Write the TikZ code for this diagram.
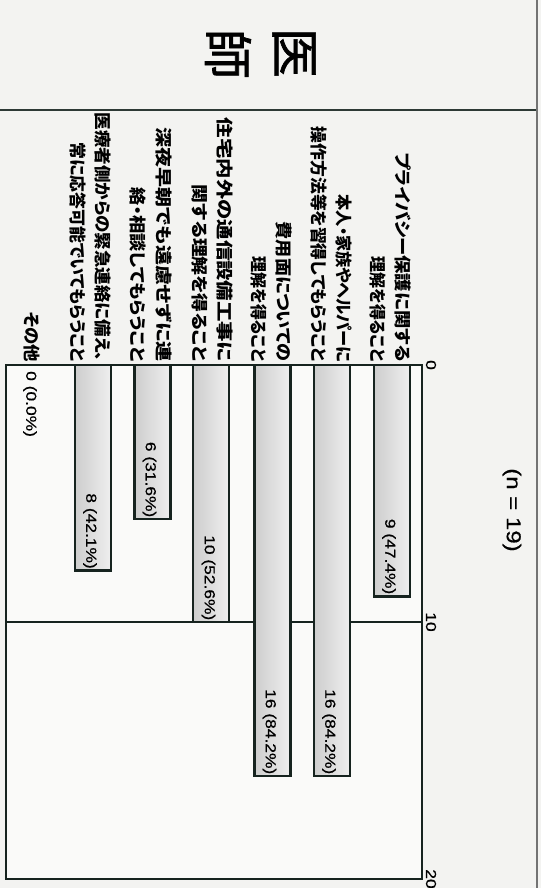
\documentclass[tikz,border=0pt]{standalone}
\usepackage{fontspec}
\setmainfont{Liberation Sans}
\newfontfamily\jpfont[RawFeature=+palt]{Noto Sans CJK JP}
\newfontfamily\jptitle[FakeBold=1.3]{Noto Sans CJK JP}
\newfontfamily\numfont[FakeStretch=1.2,FakeBold=0.6]{Liberation Sans}
\definecolor{ink}{HTML}{16231F}
\definecolor{barL}{HTML}{CDCDCD}
\definecolor{barR}{HTML}{EFEFEF}
\definecolor{paper}{HTML}{F3F3F1}
\definecolor{plotbg}{HTML}{FAFAF9}
\newcommand\jpfit[2]{\resizebox{#1pt}{\height}{#2}}
\begin{document}
\begin{tikzpicture}[x=1pt,y=-1pt,
  plotframe/.style={draw=ink, line width=2.5pt},
  gridl/.style={draw=ink, line width=1.4pt},
  barbox/.style={draw=ink, line width=2.5pt, left color=barL, right color=barR},
  catlabel/.style={rotate=-90, anchor=east, inner sep=0pt, align=right,
     font=\jpfont\bfseries\fontsize{17}{25.5}\selectfont},
  vallabel/.style={rotate=-90, anchor=east, inner sep=0pt, text=black,
     font=\numfont\fontsize{14.5}{16}\selectfont},
  axlabel/.style={rotate=-90, inner sep=0pt, text=black,
     font=\numfont\fontsize{14.5}{16}\selectfont},
  titlechar/.style={rotate=-90, inner sep=0pt,
     font=\jptitle\fontsize{50}{50}\selectfont},
]
% page
\path[fill=paper] (0,0) rectangle (541,888);
\useasboundingbox (0,0) rectangle (541,888);

% header rule and right edge
\coordinate (hl) at (0,110);
\coordinate (hr) at (537,110);
\coordinate (et) at (537,0);
\coordinate (eb) at (537,888);
\draw[ink!90, line width=2pt] (hl) -- (hr);
\draw[black!55, line width=1.6pt] (et) -- (eb);

% title
\node[titlechar] (t1) at (294,53) {医};
\node[titlechar] (t2) at (228,54) {師};

% n
\node[rotate=-90, inner sep=0pt, text=black, font=\numfont\fontsize{20}{22}\selectfont] (n) at (512,510) {(n = 19)};

% plot area
\coordinate (p00) at (6,365);
\coordinate (p20) at (422,879);
\path[fill=plotbg] (p00) rectangle (p20);
\coordinate (g1) at (6,622);
\coordinate (g2) at (422,622);
\draw[gridl] (g1) -- (g2);

% bars
\draw[barbox] (374,365) rectangle (410,596.3);
\draw[barbox] (314,365) rectangle (350,776.2);
\draw[barbox] (254.5,365) rectangle (290.5,776.2);
\draw[barbox] (193,365) rectangle (229,622);
\draw[barbox] (134.5,365) rectangle (170.5,519.2);
\draw[barbox] (75,365) rectangle (111,570.6);

\draw[plotframe] (p00) rectangle (p20);

% value labels
\node[vallabel] (v1) at (389,594.5) {9 (47.4\%)};
\node[vallabel] (v2) at (329,774.5) {16 (84.2\%)};
\node[vallabel] (v3) at (269.5,774.5) {16 (84.2\%)};
\node[vallabel] (v4) at (208.5,620.5) {10 (52.6\%)};
\node[vallabel] (v5) at (149.5,517.5) {6 (31.6\%)};
\node[vallabel] (v6) at (90,569) {8 (42.1\%)};
\node[vallabel, anchor=west] (v7) at (30,371) {0 (0.0\%)};

% axis labels
\node[axlabel] (a0) at (431,365) {0};
\node[axlabel] (a10) at (431,622) {10};
\node[axlabel] (a20) at (431,879) {20};

% category labels
\node[catlabel] (c1) at (390.5,362) {\jpfit{209}{プライバシー保護に関する}\\\jpfit{105}{理解を得ること}};
\node[catlabel] (c2) at (331.5,362) {\jpfit{167}{本人・家族やヘルパーに}\\\jpfit{235}{操作方法等を習得してもらうこと}};
\node[catlabel] (c3) at (271.5,362) {\jpfit{140}{費用面についての}\\\jpfit{105}{理解を得ること}};
\node[catlabel] (c4) at (212.5,362) {\jpfit{244}{住宅内外の通信設備工事に}\\\jpfit{177}{関する理解を得ること}};
\node[catlabel] (c5) at (151,362) {\jpfit{234}{深夜早朝でも遠慮せずに連}\\\jpfit{174}{絡・相談してもらうこと}};
\node[catlabel] (c6) at (90.5,362) {\jpfit{249}{医療者側からの緊急連絡に備え、}\\\jpfit{219}{常に応答可能でいてもらうこと}};
\node[catlabel] (c7) at (32,362) {\jpfit{50}{その他}};
\end{tikzpicture}
\end{document}
